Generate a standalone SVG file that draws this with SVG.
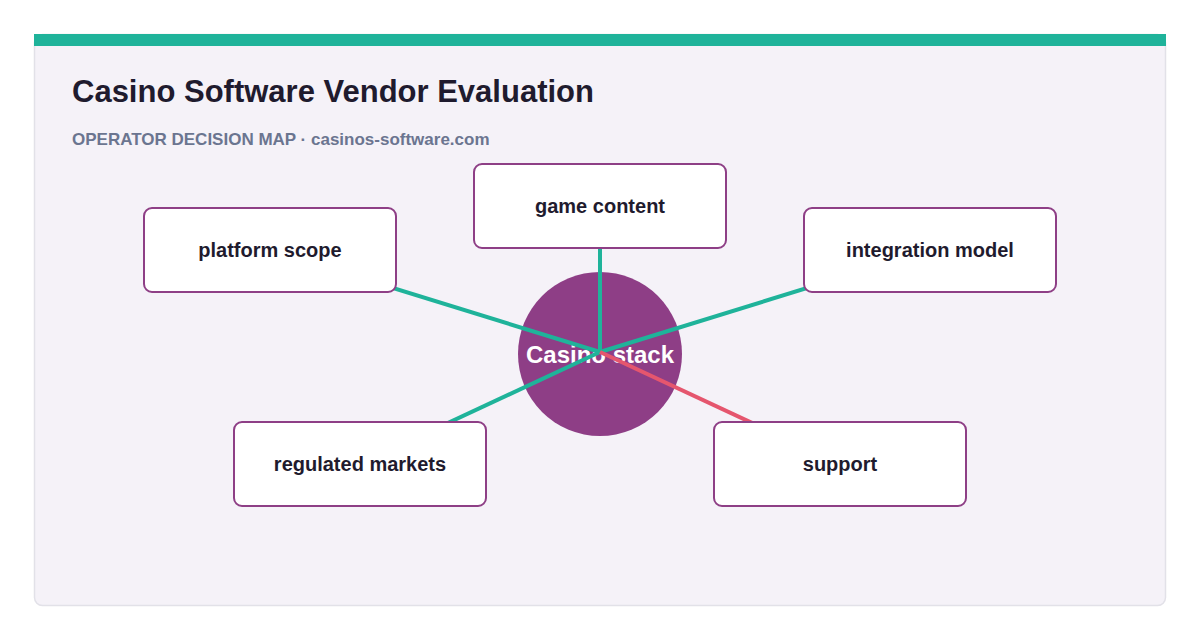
<svg xmlns="http://www.w3.org/2000/svg" width="1200" height="640" viewBox="0 0 1200 640">
<style>
.node rect{fill:#ffffff;stroke:#8e3f86;stroke-width:2}
.node text{font-family:"Liberation Sans",Arial,sans-serif;font-weight:bold;font-size:20px;fill:#1f1b2e;text-anchor:middle}
.edge{stroke-width:4;stroke-linecap:butt;fill:none}
.teal{stroke:#1fb39a}
.red{stroke:#e5566e}
</style>
<rect x="0" y="0" width="1200" height="640" fill="#ffffff"/>
<rect x="34.5" y="34.5" width="1131" height="571" rx="8" fill="#f5f2f8" stroke="#e2e1e8" stroke-width="1.5"/>
<rect x="34" y="34" width="1132" height="12" fill="#1fb39a"/>
<text x="72" y="102" font-family="Liberation Sans,Arial,sans-serif" font-weight="bold" font-size="31" fill="#1f1b2e">Casino Software Vendor Evaluation</text>
<text x="72" y="145" font-family="Liberation Sans,Arial,sans-serif" font-weight="bold" font-size="17" fill="#6b7590">OPERATOR DECISION MAP · casinos-software.com</text>
<g id="center">
<circle cx="600" cy="354" r="82" fill="#8e3e86"/>
<text x="600" y="363" font-family="Liberation Sans,Arial,sans-serif" font-weight="bold" font-size="24" fill="#ffffff" text-anchor="middle">Casino stack</text>
</g>
<g id="connectors">
<line class="edge teal" x1="600" y1="352" x2="270" y2="250"/>
<line class="edge teal" x1="600" y1="352" x2="600" y2="206"/>
<line class="edge teal" x1="600" y1="352" x2="930" y2="250"/>
<line class="edge teal" x1="600" y1="352" x2="360" y2="464"/>
<line class="edge red" x1="600" y1="352" x2="840" y2="464"/>
</g>
<g id="game-content" class="node"><rect x="474" y="164" width="252" height="84" rx="8"/><text x="600" y="213">game content</text></g>
<g id="platform-scope" class="node"><rect x="144" y="208" width="252" height="84" rx="8"/><text x="270" y="257">platform scope</text></g>
<g id="integration-model" class="node"><rect x="804" y="208" width="252" height="84" rx="8"/><text x="930" y="257">integration model</text></g>
<g id="regulated-markets" class="node"><rect x="234" y="422" width="252" height="84" rx="8"/><text x="360" y="471">regulated markets</text></g>
<g id="support" class="node"><rect x="714" y="422" width="252" height="84" rx="8"/><text x="840" y="471">support</text></g>
</svg>
